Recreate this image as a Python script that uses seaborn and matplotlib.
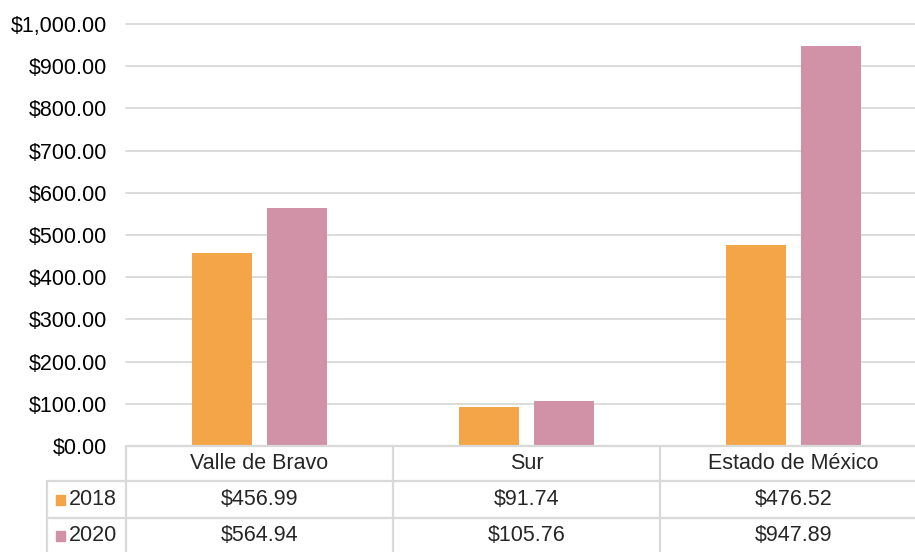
import matplotlib
matplotlib.use("Agg")
import matplotlib.pyplot as plt
from matplotlib.lines import Line2D
from matplotlib.patches import Rectangle
import pandas as pd
import seaborn as sns

# Average values by region and year
regions = ["Valle de Bravo", "Sur", "Estado de México"]
years = ["2018", "2020"]
values_2018 = [456.99, 91.74, 476.52]
values_2020 = [564.94, 105.76, 947.89]
y_ticks = [0, 100, 200, 300, 400, 500, 600, 700, 800, 900, 1000]
colors = ["#F3A547", "#D192A8"]

df = pd.DataFrame({
    "region": regions * 2,
    "year": [years[0]] * 3 + [years[1]] * 3,
    "value": values_2018 + values_2020,
})

sns.set_theme(style="white")
plt.rcParams["font.family"] = ["Liberation Sans", "DejaVu Sans"]
FS = 15.5
GRID = "#d9d9d9"

W, H = 915, 552
fig = plt.figure(figsize=(W / 100, H / 100), dpi=100)

def fx(px):
    return px / W

def fy(py):
    return 1 - py / H

left_px, right_px, top_px, bottom_px = 126, 927, 24, 446
ax = fig.add_axes([fx(left_px), fy(bottom_px), fx(right_px - left_px), (bottom_px - top_px) / H])

sns.barplot(data=df, x="region", y="value", hue="year", order=regions, hue_order=years,
            palette=colors, saturation=1, width=0.562, gap=0.21, linewidth=0,
            legend=False, ax=ax)

ax.set_xlim(-0.5, len(regions) - 0.5)
ax.set_ylim(0, 1000)
ax.set_yticks(y_ticks)
ax.set_yticklabels([f"${v:,.2f}" for v in y_ticks], fontsize=FS, color="black")
ax.tick_params(axis="y", length=0, pad=13.5)
ax.set_xticks([])
ax.set_xlabel("")
ax.set_ylabel("")
ax.yaxis.grid(True, color=GRID, linewidth=1.3)
for gl in ax.get_ygridlines():
    gl.set_clip_on(False)
ax.set_axisbelow(True)
for s in ax.spines.values():
    s.set_visible(False)

# Data table beneath the plot
col_edges = [126, 393, 660, 927]
row_edges = [446, 481, 518, 553]
label_left = 47
lw = 1.6

def hline(y, x0, x1):
    fig.add_artist(Line2D([fx(x0), fx(x1)], [fy(y), fy(y)], color=GRID, linewidth=lw))

def vline(x, y0, y1):
    fig.add_artist(Line2D([fx(x), fx(x)], [fy(y0), fy(y1)], color=GRID, linewidth=lw))

hline(row_edges[0], col_edges[0], W + 5)
hline(row_edges[1], label_left, W + 5)
hline(row_edges[2], label_left, W + 5)
for x in col_edges:
    vline(x, row_edges[0], H + 5)
vline(label_left, row_edges[1], H + 5)

for i, name in enumerate(regions):
    cx = (col_edges[i] + col_edges[i + 1]) / 2
    fig.text(fx(cx), fy((row_edges[0] + row_edges[1]) / 2), name,
             ha="center", va="center", fontsize=FS)

rows = [values_2018, values_2020]
for r, (yr, vals, c) in enumerate(zip(years, rows, colors)):
    cy = (row_edges[r + 1] + row_edges[r + 2]) / 2
    fig.add_artist(Rectangle((fx(56), fy(cy + 5)), fx(9), 10 / H, color=c,
                             transform=fig.transFigure))
    fig.text(fx(69), fy(cy), yr, ha="left", va="center", fontsize=FS)
    for i, v in enumerate(vals):
        cx = (col_edges[i] + col_edges[i + 1]) / 2
        fig.text(fx(cx), fy(cy), f"${v:,.2f}", ha="center", va="center", fontsize=FS)

fig.savefig("out.png", dpi=100)
